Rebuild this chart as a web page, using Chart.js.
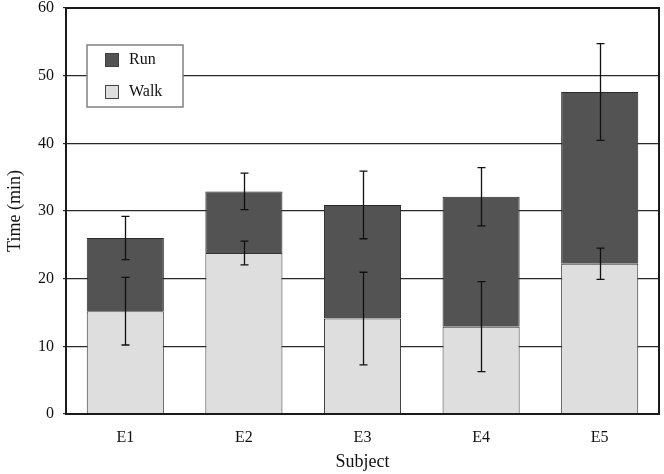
<!DOCTYPE html>
<html>
<head>
<meta charset="utf-8">
<script src="https://cdn.jsdelivr.net/npm/chart.js@4.4.0/dist/chart.umd.min.js"></script>
<style>
  html, body { margin: 0; padding: 0; background: #fff; }
  #wrap { width: 664px; height: 474px; }
</style>
</head>
<body>
<div id="wrap"><canvas id="chart" width="664" height="474"></canvas></div>
<script>
const subjects = ['E1', 'E2', 'E3', 'E4', 'E5'];
const walk = [15.2, 23.8, 14.1, 12.9, 22.2];
const run = [10.8, 9.1, 16.8, 19.2, 25.4];
const walkErr = [5.0, 1.75, 6.85, 6.65, 2.3];
const runErr = [3.2, 2.7, 5.0, 4.3, 7.15];
const yTicks = [0, 10, 20, 30, 40, 50, 60];

const serif = '"Liberation Serif", "Times New Roman", serif';

// error bars: walk around its own value, run around the stacked total
const errorBars = {
    id: 'errorBars',
    afterDatasetsDraw(chart) {
        const ctx = chart.ctx;
        const y = chart.scales.y;
        ctx.save();
        ctx.strokeStyle = '#111';
        ctx.lineWidth = 1.3;
        chart.data.datasets.forEach((ds, di) => {
            const meta = chart.getDatasetMeta(di);
            meta.data.forEach((bar, i) => {
                const base = di === 0 ? walk[i] : walk[i] + run[i];
                const err = ds.errors[i];
                const top = y.getPixelForValue(base + err);
                const bot = y.getPixelForValue(base - err);
                const x = Math.round(bar.x) + 0.5;
                ctx.beginPath();
                ctx.moveTo(x, top); ctx.lineTo(x, bot);
                ctx.moveTo(x - 4, top); ctx.lineTo(x + 4, top);
                ctx.moveTo(x - 4, bot); ctx.lineTo(x + 4, bot);
                ctx.stroke();
            });
        });
        ctx.restore();
    }
};

// frame around plot and the boxed legend inside it
const frameLegend = {
    id: 'frameLegend',
    afterDraw(chart) {
        const ctx = chart.ctx;
        const a = chart.chartArea;
        ctx.save();
        ctx.strokeStyle = '#1a1a1a';
        ctx.lineWidth = 2;
        ctx.strokeRect(a.left, a.top, a.right - a.left, a.bottom - a.top);

        const bx = a.left + 21, by = a.top + 37;
        ctx.fillStyle = '#fff';
        ctx.fillRect(bx, by, 96, 62);
        ctx.strokeStyle = '#808080';
        ctx.lineWidth = 1.5;
        ctx.strokeRect(bx, by, 96, 62);

        const items = [chart.data.datasets[1], chart.data.datasets[0]];
        items.forEach((ds, k) => {
            const sy = by + 8 + k * 32;
            ctx.fillStyle = ds.backgroundColor;
            ctx.fillRect(bx + 18, sy, 14, 14);
            ctx.strokeStyle = '#444';
            ctx.lineWidth = 1;
            ctx.strokeRect(bx + 18.5, sy + 0.5, 13, 13);
            ctx.fillStyle = '#111';
            ctx.font = '16px ' + serif;
            ctx.textBaseline = 'middle';
            ctx.fillText(ds.label, bx + 42, sy + 7);
        });
        ctx.restore();
    }
};

new Chart(document.getElementById('chart'), {
    type: 'bar',
    data: {
        labels: subjects,
        datasets: [{
            label: 'Walk',
            data: walk,
            errors: walkErr,
            backgroundColor: '#dedede',
            borderColor: '#333',
            borderWidth: 1,
            categoryPercentage: 1,
            barPercentage: 0.65
        }, {
            label: 'Run',
            data: run,
            errors: runErr,
            backgroundColor: '#535353',
            borderColor: '#2a2a2a',
            borderWidth: 1,
            categoryPercentage: 1,
            barPercentage: 0.65
        }]
    },
    options: {
        responsive: false,
        animation: false,
        layout: { autoPadding: false, padding: { top: 8, right: 5, left: 0, bottom: 0 } },
        plugins: {
            legend: { display: false },
            tooltip: { enabled: false }
        },
        scales: {
            x: {
                stacked: true,
                grid: { display: false, drawTicks: false },
                border: { display: false },
                ticks: { color: '#111', padding: 14, font: { family: serif, size: 16 } },
                title: { display: true, text: 'Subject', color: '#111', padding: { top: 0, bottom: 1 }, font: { family: serif, size: 18 } },
                afterFit: s => { s.height = 60; s.paddingLeft = 0; s.paddingRight = 0; }
            },
            y: {
                stacked: true,
                min: 0,
                max: 60,
                afterBuildTicks: s => { s.ticks = yTicks.map(v => ({ value: v })); },
                grid: { color: '#2a2a2a', lineWidth: 1.2, drawTicks: true, tickLength: 3 },
                border: { display: false },
                ticks: { color: '#111', padding: 9, font: { family: serif, size: 16 } },
                title: { display: true, text: 'Time (min)', color: '#111', padding: { top: 4, bottom: 0 }, font: { family: serif, size: 18 } },
                afterFit: s => { s.width = 66; s.paddingTop = 0; s.paddingBottom = 0; }
            }
        }
    },
    plugins: [errorBars, frameLegend]
});
</script>
</body>
</html>
